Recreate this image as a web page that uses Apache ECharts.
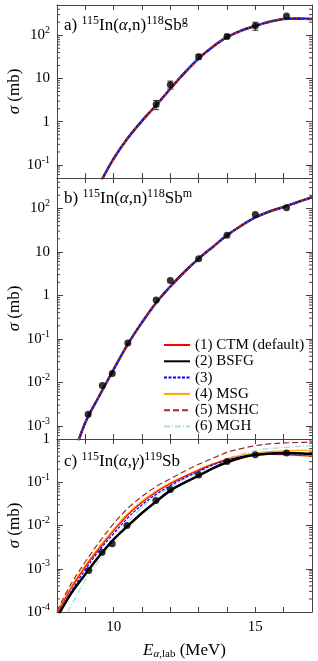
<!DOCTYPE html>
<html><head><meta charset="utf-8">
<script src="https://cdn.jsdelivr.net/npm/echarts@6/dist/echarts.min.js"></script>
<style>html,body{margin:0;padding:0;background:#fff}#c{width:318px;height:661px}</style>
</head><body><div id="c"></div>
<script>
// ---------------- data ----------------
const modelNames = ['(1) CTM (default)', '(2) BSFG', '(3)', '(4) MSG', '(5) MSHC', '(6) MGH'];
const xTickLabels = [10, 15];

// panel a: 115In(a,n)118Sb^g  (all models coincide)
const energiesA = [9.5, 10, 10.5, 11, 11.5, 12, 12.5, 13, 13.5, 14, 14.5, 15, 15.5, 16, 16.5, 17];
const curveA    = [0.036, 0.14, 0.42, 1.05, 2.4, 5.8, 13.5, 29, 54, 90, 128, 165, 205, 238, 245, 237];
const expEA     = [11.5, 12, 13, 14, 15, 16.1];
const expSigA   = [2.5, 7.2, 32, 94, 165, 280];
const expErrA   = [0.6, 1.5, 4, 10, 35, 0];

// panel b: 115In(a,n)118Sb^m  (all models coincide)
const energiesB = [8.5, 9, 9.5, 10, 10.5, 11, 11.5, 12, 12.5, 13, 13.5, 14, 14.5, 15, 15.5, 16, 16.5, 17];
const curveB    = [1.4e-4, 1.2e-3, 5e-3, 0.02, 0.076, 0.24, 0.68, 1.6, 3.5, 7, 13, 24, 40, 62, 85, 108, 140, 180];
const expEB     = [9.1, 9.6, 9.95, 10.5, 11.5, 12, 13, 14, 15, 16.1];
const expSigB   = [1.85e-3, 8.5e-3, 0.016, 0.08, 0.78, 2.2, 7.0, 24, 72, 103];

// panel c: 115In(a,g)119Sb
const energiesC = [8, 8.5, 9, 9.5, 10, 10.5, 11, 11.5, 12, 12.5, 13, 13.5, 14, 14.5, 15, 15.5, 16, 16.5, 17];
const cCTM  = [9e-5, 3.5e-4, 1.1e-3, 3.0e-3, 7.5e-3, 0.0175, 0.034, 0.059, 0.092, 0.135, 0.19, 0.26, 0.33, 0.39, 0.43, 0.44, 0.435, 0.42, 0.40];
const cBSFG = [7.5e-5, 2.7e-4, 7.5e-4, 2.0e-3, 4.8e-3, 0.0098, 0.0195, 0.036, 0.064, 0.098, 0.142, 0.21, 0.29, 0.37, 0.43, 0.465, 0.477, 0.47, 0.455];
const c3    = [7.5e-5, 3.0e-4, 9.5e-4, 2.7e-3, 6.5e-3, 0.015, 0.03, 0.053, 0.084, 0.125, 0.178, 0.25, 0.32, 0.39, 0.43, 0.45, 0.455, 0.45, 0.44];
const cMSG  = [1e-4, 3.9e-4, 1.2e-3, 3.3e-3, 8.2e-3, 0.019, 0.037, 0.063, 0.097, 0.14, 0.2, 0.27, 0.35, 0.42, 0.47, 0.51, 0.53, 0.545, 0.55];
const cMSHC = [1.05e-4, 4.5e-4, 1.45e-3, 4.2e-3, 0.011, 0.025, 0.047, 0.08, 0.12, 0.18, 0.26, 0.36, 0.49, 0.6, 0.7, 0.77, 0.81, 0.83, 0.84];
const cMGH  = [3.5e-5, 1.4e-4, 5.5e-4, 1.6e-3, 4.6e-3, 0.012, 0.026, 0.048, 0.077, 0.118, 0.17, 0.25, 0.35, 0.45, 0.54, 0.6, 0.635, 0.67, 0.70];
const expEC   = [9.12, 9.59, 9.95, 10.47, 11.49, 12.0, 13.0, 14.0, 15.0, 16.1];
const expSigC = [9.1e-4, 2.4e-3, 3.8e-3, 0.01, 0.038, 0.068, 0.148, 0.30, 0.43, 0.475];

// ---------------- styling ----------------
const FONT = 'Liberation Serif';
const AX = '#444';
const lineStyles = {
  '(1) CTM (default)': {color: '#ff0000', width: 1.2, type: 'solid'},
  '(2) BSFG': {color: '#000000', width: 2.5, type: 'solid'},
  '(3)': {color: '#0000ff', width: 1.2, type: [3, 1.5]},
  '(4) MSG': {color: '#ffa500', width: 1.2, type: 'solid'},
  '(5) MSHC': {color: '#a52a2a', width: 1.2, type: [6, 3]},
  '(6) MGH': {color: '#add8e6', width: 1.3, type: [6, 2, 1, 2]}
};
const grids = [
  {left: 57, top: 5, width: 255, height: 173},
  {left: 57, top: 178, width: 255, height: 261},
  {left: 57, top: 439, width: 255, height: 173}
];
const yRanges = [[0.05, 500, 4], [5e-4, 500, 6], [1e-4, 1, 4]];

function pow10Label(v) {
  const l = Math.log10(v);
  const e = Math.round(l);
  if (Math.abs(l - e) > 1e-6) return '';
  if (e === 0) return '1';
  if (e === 1) return '10';
  return '10{sup|' + e + '}';
}

const xAxes = [], yAxes = [];
grids.forEach((g, i) => {
  const last = i === 2;
  ['bottom', 'top'].forEach(pos => {
    xAxes.push({
      type: 'value', gridIndex: i, min: 8, max: 17, interval: 1, position: pos,
      axisLine: {show: true, onZero: false, lineStyle: {color: AX, width: 1}},
      axisTick: {show: true, inside: true, length: 5, lineStyle: {color: AX}},
      splitLine: {show: false},
      axisLabel: {
        show: last && pos === 'bottom', margin: 8,
        formatter: v => xTickLabels.indexOf(v) >= 0 ? String(v) : '',
        fontFamily: FONT, fontSize: 15, color: '#000'
      },
      name: (last && pos === 'bottom') ? '{it|E}{subit|α}{sub|,lab} (MeV)' : '',
      nameLocation: 'middle', nameGap: 29, nameMoveOverlap: false,
      nameTextStyle: {fontFamily: FONT, fontSize: 17, color: '#000',
        rich: {it: {fontStyle: 'italic', fontSize: 17},
               subit: {fontStyle: 'italic', fontSize: 11, padding: [8, 0, 0, 0]},
               sub: {fontSize: 11, padding: [8, 0, 0, 0]}}}
    });
  });
  ['left', 'right'].forEach(pos => {
    yAxes.push({
      type: 'log', logBase: 10, gridIndex: i, position: pos,
      min: yRanges[i][0], max: yRanges[i][1], splitNumber: yRanges[i][2],
      axisLine: {show: true, lineStyle: {color: AX, width: 1}},
      axisTick: {show: true, inside: true, length: 6, lineStyle: {color: AX}},
      splitLine: {show: false},
      axisLabel: {
        show: pos === 'left', margin: 7, formatter: pow10Label,
        fontFamily: FONT, fontSize: 15, color: '#000',
        rich: {sup: {fontSize: 10, padding: [0, 0, 10, 0]}}
      },
      name: pos === 'left' ? '{it|σ} (mb)' : '',
      nameLocation: 'middle', nameRotate: 90, nameGap: 34, nameMoveOverlap: false,
      nameTextStyle: {fontFamily: FONT, fontSize: 17, color: '#000',
        rich: {it: {fontStyle: 'italic', fontSize: 17}}}
    });
  });
});

function lineSeries(name, xs, ys, gi, z) {
  const s = lineStyles[name];
  return {
    type: 'line', name: name, xAxisIndex: gi * 2, yAxisIndex: gi * 2,
    data: xs.map((x, k) => [x, ys[k]]), smooth: 0.35, symbol: 'none', showSymbol: false,
    lineStyle: {color: s.color, width: s.width, type: s.type}, itemStyle: {color: s.color},
    z: z, silent: true, animation: false, clip: true
  };
}
function scatterSeries(xs, ys, gi) {
  return {
    type: 'scatter', xAxisIndex: gi * 2, yAxisIndex: gi * 2,
    data: xs.map((x, k) => [x, ys[k]]), symbol: 'circle', symbolSize: 7,
    itemStyle: {color: '#000'}, z: 20, silent: true, animation: false
  };
}
function minorTickValues(lo, hi) {
  const out = [];
  for (let d = Math.floor(Math.log10(lo)); d <= Math.ceil(Math.log10(hi)); d++) {
    for (let k = 2; k <= 9; k++) {
      const v = k * Math.pow(10, d);
      if (v > lo * 1.0001 && v < hi * 0.9999) out.push([8, v]);
    }
  }
  return out;
}
function minorTickSeries(gi) {
  return {
    type: 'custom', xAxisIndex: gi * 2, yAxisIndex: gi * 2, silent: true, animation: false, z: 5,
    data: minorTickValues(yRanges[gi][0], yRanges[gi][1]), encode: {x: 0, y: 1}, clip: false,
    renderItem: (params, api) => {
      const cs = params.coordSys;
      const y = api.coord([8, api.value(1)])[1];
      const st = {stroke: AX, lineWidth: 1};
      return {type: 'group', children: [
        {type: 'line', shape: {x1: cs.x, y1: y, x2: cs.x + 3, y2: y}, style: st},
        {type: 'line', shape: {x1: cs.x + cs.width - 3, y1: y, x2: cs.x + cs.width, y2: y}, style: st}
      ]};
    }
  };
}
function errorBarSeries(xs, ys, errs, gi) {
  return {
    type: 'custom', xAxisIndex: gi * 2, yAxisIndex: gi * 2, silent: true, animation: false, z: 19,
    data: xs.map((x, k) => [x, ys[k] - errs[k], ys[k] + errs[k]]).filter((d, k) => errs[k] > 0),
    encode: {x: 0, y: [1, 2]},
    renderItem: (params, api) => {
      const p1 = api.coord([api.value(0), api.value(1)]);
      const p2 = api.coord([api.value(0), api.value(2)]);
      const st = {stroke: '#333', lineWidth: 1};
      return {type: 'group', children: [
        {type: 'line', shape: {x1: p1[0], y1: p1[1], x2: p2[0], y2: p2[1]}, style: st},
        {type: 'line', shape: {x1: p1[0] - 3, y1: p1[1], x2: p1[0] + 3, y2: p1[1]}, style: st},
        {type: 'line', shape: {x1: p2[0] - 3, y1: p2[1], x2: p2[0] + 3, y2: p2[1]}, style: st}
      ]};
    }
  };
}

const series = [];
// panels a & b: models coincide; draw all six with the same curve
const abOrder = ['(2) BSFG', '(4) MSG', '(6) MGH', '(1) CTM (default)', '(5) MSHC', '(3)'];
abOrder.forEach((n, k) => {
  series.push(lineSeries(n, energiesA, curveA, 0, 10 + k));
  series.push(lineSeries(n, energiesB, curveB, 1, 10 + k));
});
const cData = {'(1) CTM (default)': cCTM, '(2) BSFG': cBSFG, '(3)': c3, '(4) MSG': cMSG, '(5) MSHC': cMSHC, '(6) MGH': cMGH};
const cOrder = ['(6) MGH', '(4) MSG', '(5) MSHC', '(1) CTM (default)', '(3)', '(2) BSFG'];
cOrder.forEach((n, k) => series.push(lineSeries(n, energiesC, cData[n], 2, 10 + k)));
series.push(errorBarSeries(expEA, expSigA, expErrA, 0));
series.push(scatterSeries(expEA, expSigA, 0));
series.push(scatterSeries(expEB, expSigB, 1));
series.push(scatterSeries(expEC, expSigC, 2));
[0, 1, 2].forEach(g => series.push(minorTickSeries(g)));

const titleRich = {
  sup: {fontSize: 12, padding: [0, 0, 10, 0]},
  it: {fontStyle: 'italic'}
};
const titleStyle = {fontFamily: FONT, fontSize: 17, fontWeight: 'normal', color: '#000', rich: titleRich};

const chart = echarts.init(document.getElementById('c'), null, {renderer: 'canvas'});
chart.setOption({
  animation: false,
  backgroundColor: '#fff',
  grid: grids.map(g => Object.assign({containLabel: false, outerBoundsMode: 'none'}, g)),
  xAxis: xAxes,
  yAxis: yAxes,
  title: [
    {text: 'a) {sup|115}In({it|α},n){sup|118}Sb{sup|g}', left: 64, top: 15, padding: 0, textStyle: titleStyle},
    {text: 'b) {sup|115}In({it|α},n){sup|118}Sb{sup|m}', left: 64, top: 188, padding: 0, textStyle: titleStyle},
    {text: 'c) {sup|115}In({it|α},{it|γ}){sup|119}Sb', left: 64, top: 451, padding: 0, textStyle: titleStyle}
  ],
  legend: {
    data: modelNames, orient: 'vertical', left: 163, top: 337, padding: 0,
    itemWidth: 26, itemHeight: 12, itemGap: 0.3, selectedMode: false,
    itemStyle: {opacity: 0},
    textStyle: {fontFamily: FONT, fontSize: 15, color: '#000', lineHeight: 16, padding: [0, 0, 0, 0]}
  },
  series: series
});
</script></body></html>
